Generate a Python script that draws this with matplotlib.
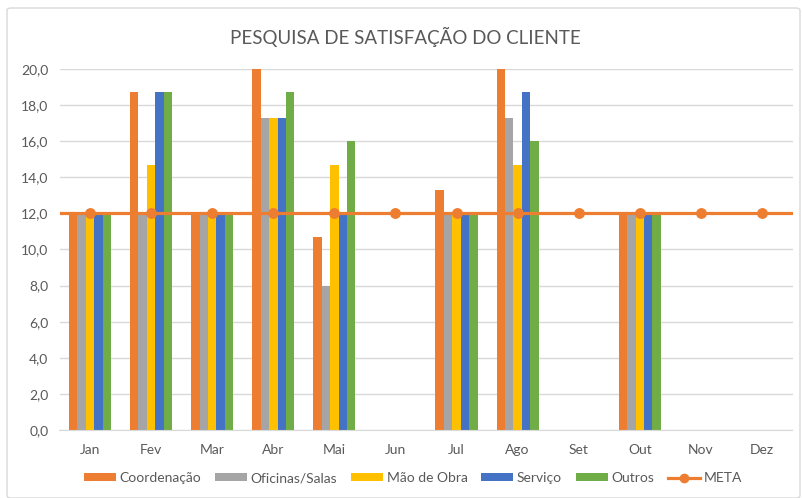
import matplotlib
matplotlib.use("Agg")
import matplotlib.pyplot as plt
import numpy as np
from matplotlib.patches import FancyBboxPatch, Patch
from matplotlib.lines import Line2D

months = ["Jan", "Fev", "Mar", "Abr", "Mai", "Jun", "Jul", "Ago", "Set", "Out", "Nov", "Dez"]
series_names = ["Coordenação", "Oficinas/Salas", "Mão de Obra", "Serviço", "Outros"]
coordenacao = [12.0, 18.7, 12.0, 20.0, 10.7, 0, 13.3, 20.0, 0, 12.0, 0, 0]
oficinas = [12.0, 12.0, 12.0, 17.3, 8.0, 0, 12.0, 17.3, 0, 12.0, 0, 0]
mao_obra = [12.0, 14.7, 12.0, 17.3, 14.7, 0, 12.0, 14.7, 0, 12.0, 0, 0]
servico = [12.0, 18.7, 12.0, 17.3, 12.0, 0, 12.0, 18.7, 0, 12.0, 0, 0]
outros = [12.0, 18.7, 12.0, 18.7, 16.0, 0, 12.0, 16.0, 0, 12.0, 0, 0]
meta = [12.0] * 12
yticks = [0, 2, 4, 6, 8, 10, 12, 14, 16, 18, 20]
title = "PESQUISA DE SATISFAÇÃO DO CLIENTE"

colors = ["#ED7D31", "#A5A5A5", "#FFC000", "#4472C4", "#70AD47"]
txt = "#595959"
plt.rcParams['font.family'] = ['Lato', 'DejaVu Sans']

fig = plt.figure(figsize=(8.02, 4.98), dpi=100)
bg = FancyBboxPatch((7/802, 0.0), 793/802, 490/498, boxstyle="round,pad=0,rounding_size=0.005",
                    transform=fig.transFigure, facecolor="white", edgecolor="#d9d9d9", lw=1, zorder=-10)
fig.patches.append(bg)
ax = fig.add_axes([59.5/802, 68/498, 733/802, 361/498])
ax.set_facecolor("none")

x = np.arange(len(months))
data = [coordenacao, oficinas, mao_obra, servico, outros]
bw = 0.138
for i, (vals, c) in enumerate(zip(data, colors)):
    ax.bar(x + (i - 2) * bw, vals, width=bw, color=c, zorder=2)

mx = np.r_[-0.5, x, len(months) - 0.5]
my = np.r_[meta[0], meta, meta[-1]]
ax.plot(mx, my, color="#ED7D31", lw=2.3, marker="o", markersize=6.8,
        markevery=list(range(1, len(months) + 1)), zorder=3)

ax.set_xlim(-0.5, len(months) - 0.5)
ax.set_ylim(0, 20)
ax.set_yticks(yticks)
ax.set_yticklabels([f"{v:.1f}".replace(".", ",") for v in yticks])
ax.set_xticks(x)
ax.set_xticklabels(months)
ax.tick_params(length=0, colors=txt, labelsize=10)
ax.tick_params(axis="x", pad=10)
ax.tick_params(axis="y", pad=8)
ax.grid(axis="y", color="#d9d9d9", lw=1, zorder=0)
ax.set_axisbelow(True)
for s in ["top", "right", "left"]:
    ax.spines[s].set_visible(False)
ax.spines["bottom"].set_color("#d9d9d9")

fig.text(405/802, 1 - 37/498, title, ha="center", va="center", fontsize=13.5, color=txt)

handles = [Patch(facecolor=c, edgecolor="none") for c in colors]
handles.append(Line2D([0], [0], color="#ED7D31", lw=2.3, marker="o", markersize=6))
leg = fig.legend(handles, series_names + ["META"], loc="center", bbox_to_anchor=(413/802, 20/498),
                 ncol=6, frameon=False, fontsize=10, handlelength=2.3, handleheight=0.5,
                 columnspacing=1.0, handletextpad=0.25, labelcolor=txt)

fig.savefig("out.png", dpi=100)
